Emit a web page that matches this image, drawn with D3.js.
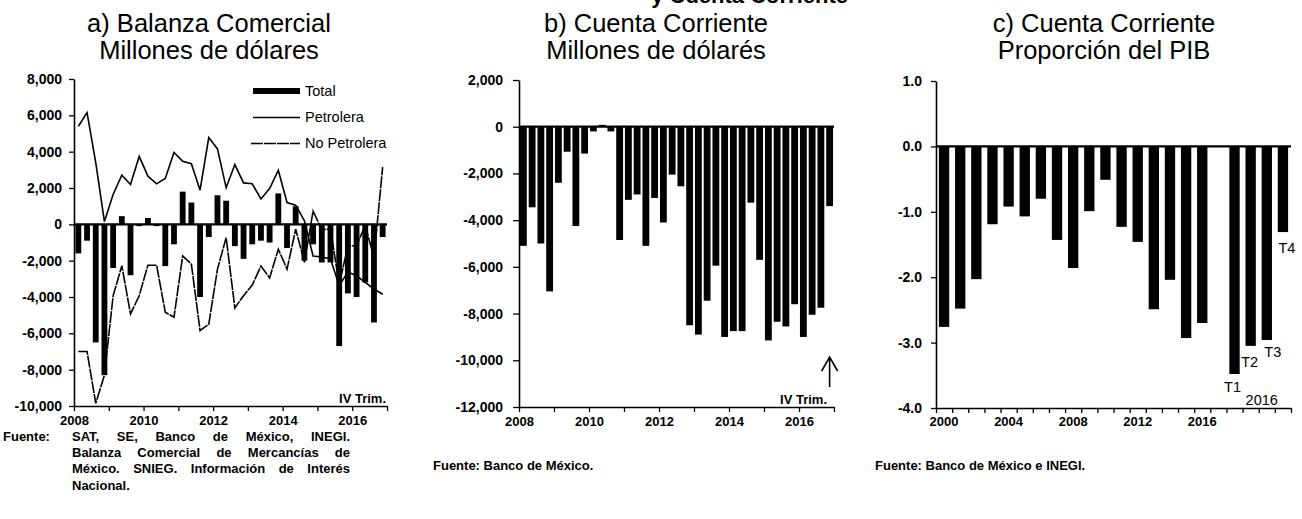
<!DOCTYPE html>
<html><head><meta charset="utf-8">
<script src="https://cdn.jsdelivr.net/npm/d3@7"></script>
<style>
body{margin:0;background:#fff}
svg{display:block}
text{font-family:"Liberation Sans",Arial,sans-serif;fill:#000}
.tick text{font-size:13px;font-weight:bold}
.yax .tick text{font-size:14px}
</style>
</head><body>
<svg id="chart" width="1302" height="519"></svg>
<script>
// ---------- DATA ----------
const quarters = [];
for (let y = 2008; y <= 2016; y++) for (let q = 1; q <= 4; q++) quarters.push(y + "-T" + q);

// a) Balanza comercial, millones de dólares (trimestral)
const totalA = [-1600,-900,-6500,-8300,-2400,450,-2800,-100,350,-100,-2300,-1100,
                1800,1200,-4000,-700,1600,1300,-1200,-1900,-1100,-900,-1000,1700,
                -1300,1000,-2000,-1100,-2100,-2100,-6700,-3800,-4000,-3200,-5400,-700];
const petrolera = [5400,6150,3400,150,1640,2700,2190,3740,2650,2230,2520,3960,
                   3470,3340,1880,4780,4150,2010,3290,2280,2230,1400,1970,2980,
                   1200,1050,200,-1750,-1800,-1900,-3380,-2630,-2830,-3200,-3560,-3850];
const noPetrolera = [-7000,-7000,-9850,-8300,-3930,-2280,-4930,-3930,-2250,-2250,-4840,-5110,
                     -1740,-2190,-5850,-5500,-2470,-730,-4600,-3930,-3340,-2300,-2950,-1370,
                     -2470,-270,-2100,730,-300,-250,-3320,-1200,-1170,-50,-1840,3150];
const yTicksA = [-10000,-8000,-6000,-4000,-2000,0,2000,4000,6000,8000];
const yearTicks = [2008,2009,2010,2011,2012,2013,2014,2015,2016,2017];
const yearLabels = [2008,2010,2012,2014,2016];

// b) Cuenta corriente, millones de dólares (trimestral)
const cuentaB = [-5100,-3450,-5000,-7050,-2400,-1070,-4250,-1150,-200,80,-200,-4850,
                 -3130,-2900,-5100,-3050,-4100,-2050,-2550,-8500,-8900,-7450,-5950,-9000,
                 -8750,-8750,-3250,-5700,-9150,-8350,-8550,-7600,-9000,-8050,-7750,-3400];
const yTicksB = [-12000,-10000,-8000,-6000,-4000,-2000,0,2000];

// c) Cuenta corriente, proporción del PIB
const categoriesC = ["2000","2001","2002","2003","2004","2005","2006","2007","2008","2009",
                     "2010","2011","2012","2013","2014","2015","2016","gap","T1","T2","T3","T4"];
const valuesC = [-2.76,-2.48,-2.03,-1.19,-0.92,-1.07,-0.80,-1.43,-1.86,-0.99,
                 -0.51,-1.23,-1.46,-2.49,-2.04,-2.93,-2.70,null,-3.48,-3.05,-2.96,-1.31];
const xLabelsC = ["2000","2004","2008","2012","2016"];
const yTicksC = [-4,-3,-2,-1,0,1];

// ---------- HELPERS ----------
const svg = d3.select("#chart");
const loc = d3.formatLocale({decimal:".", thousands:",", grouping:[3], currency:["$",""], minus:"-"});
const fmtK = loc.format(",");
const fmt1 = loc.format(".1f");

function styleAxis(g){
  g.select(".domain").attr("stroke","#000").attr("stroke-width",1.6);
  g.selectAll(".tick line").attr("stroke","#000").attr("stroke-width",1.3);
}
function title(cx, l1, l2){
  svg.append("text").attr("x",cx).attr("y",32).attr("text-anchor","middle")
     .style("font-size","25.5px").text(l1);
  svg.append("text").attr("x",cx).attr("y",59).attr("text-anchor","middle")
     .style("font-size","25.5px").text(l2);
}
function bandScale(domain, r0, r1, p){
  return d3.scaleBand().domain(domain).range([r0,r1]).paddingInner(p).paddingOuter(p/2);
}
// justified line: stretch word spacing so the text fills [x0, x1]
function justified(g, x0, x1, y, str){
  const t = g.append("text").attr("x",x0).attr("y",y).text(str);
  const w = t.node().getComputedTextLength();
  const n = (str.match(/ /g)||[]).length;
  if (n>0 && x1-x0>w) t.style("word-spacing", ((x1-x0-w)/n).toFixed(2)+"px");
  return t;
}

// top clipped heading
svg.append("text").attr("x",848).attr("y",3).attr("text-anchor","end")
   .style("font-size","22px").style("font-weight","bold").text("y Cuenta Corriente");

// ================= CHART A =================
{
  const L=74, R=387, T=79, B=406;
  const x = bandScale(quarters, L, R, 0.33);
  const xy = d3.scaleLinear().domain([2008,2017]).range([L,R]);
  const y = d3.scaleLinear().domain([-10000,8000]).range([B,T]);
  const cx = (i)=> x(quarters[i]) + x.bandwidth()/2;

  svg.append("g").selectAll("rect").data(totalA).join("rect")
    .attr("x",(d,i)=>x(quarters[i])).attr("width",x.bandwidth())
    .attr("y",d=>y(Math.max(0,d))).attr("height",d=>Math.abs(y(d)-y(0)))
    .attr("fill","#000");

  svg.append("line").attr("x1",L).attr("x2",R).attr("y1",y(0)).attr("y2",y(0))
     .attr("stroke","#000").attr("stroke-width",2.2);

  const line = d3.line().x((d,i)=>cx(i)).y(d=>y(d));
  svg.append("path").datum(petrolera).attr("d",line).attr("fill","none")
     .attr("stroke","#000").attr("stroke-width",1.6);
  svg.append("path").datum(noPetrolera).attr("d",line).attr("fill","none")
     .attr("stroke","#000").attr("stroke-width",1.6).attr("stroke-dasharray","12,1");

  const ga = svg.append("g").attr("class","yax").attr("transform",`translate(${L},0)`)
    .call(d3.axisLeft(y).tickValues(yTicksA).tickFormat(fmtK).tickSize(5).tickSizeOuter(0).tickPadding(7));
  styleAxis(ga);
  const gb = svg.append("g").attr("transform",`translate(0,${B})`)
    .call(d3.axisBottom(xy).tickValues(yearTicks).tickFormat(d=>yearLabels.includes(d)?d:"").tickSize(5).tickSizeOuter(0).tickPadding(5));
  styleAxis(gb);

  svg.append("text").attr("x",R-1).attr("y",B-3).attr("text-anchor","end")
     .style("font-size","13px").style("font-weight","bold").text("IV Trim.");

  // legend
  const lg = svg.append("g").style("font-size","14.5px");
  lg.append("rect").attr("x",253).attr("y",88).attr("width",47).attr("height",6).attr("fill","#000");
  lg.append("text").attr("x",305).attr("y",96).text("Total");
  lg.append("line").attr("x1",253).attr("x2",300).attr("y1",117.5).attr("y2",117.5).attr("stroke","#000").attr("stroke-width",1.6);
  lg.append("text").attr("x",305).attr("y",122).text("Petrolera");
  lg.append("line").attr("x1",251).attr("x2",300).attr("y1",143.5).attr("y2",143.5).attr("stroke","#000").attr("stroke-width",1.6).attr("stroke-dasharray","12,1");
  lg.append("text").attr("x",305).attr("y",148).text("No Petrolera");

  title(209, "a) Balanza Comercial", "Millones de dólares");

  const src = svg.append("g").style("font-size","13px").style("font-weight","bold");
  src.append("text").attr("x",3).attr("y",441).text("Fuente:");
  justified(src, 72, 350, 441, "SAT, SE, Banco de México, INEGI.");
  justified(src, 72, 350, 457, "Balanza Comercial de Mercancías de");
  justified(src, 72, 350, 473, "México. SNIEG. Información de Interés");
  src.append("text").attr("x",72).attr("y",490).text("Nacional.");
}

// ================= CHART B =================
{
  const L=519, R=834, T=80, B=407;
  const x = bandScale(quarters, L, R, 0.22);
  const xy = d3.scaleLinear().domain([2008,2017]).range([L,R]);
  const y = d3.scaleLinear().domain([-12000,2000]).range([B,T]);

  svg.append("g").selectAll("rect").data(cuentaB).join("rect")
    .attr("x",(d,i)=>x(quarters[i])).attr("width",x.bandwidth())
    .attr("y",d=>y(Math.max(0,d))).attr("height",d=>Math.abs(y(d)-y(0)))
    .attr("fill","#000");
  svg.append("line").attr("x1",L).attr("x2",R).attr("y1",y(0)).attr("y2",y(0))
     .attr("stroke","#000").attr("stroke-width",2.2);

  const ga = svg.append("g").attr("class","yax").attr("transform",`translate(${L},0)`)
    .call(d3.axisLeft(y).tickValues(yTicksB).tickFormat(fmtK).tickSize(6).tickSizeOuter(0).tickPadding(10));
  styleAxis(ga);
  const gb = svg.append("g").attr("transform",`translate(0,${B})`)
    .call(d3.axisBottom(xy).tickValues(yearTicks).tickFormat(d=>yearLabels.includes(d)?d:"").tickSize(5).tickSizeOuter(0).tickPadding(5));
  styleAxis(gb);

  svg.append("text").attr("x",827).attr("y",B-3).attr("text-anchor","end")
     .style("font-size","13px").style("font-weight","bold").text("IV Trim.");
  const ax = x(quarters[35]) + x.bandwidth()/2;
  svg.append("path").attr("d",`M${ax},${B-20}V${B-50}M${ax-8},${B-36}L${ax},${B-50}L${ax+8},${B-36}`)
     .attr("fill","none").attr("stroke","#000").attr("stroke-width",1.6);

  title(656, "b) Cuenta Corriente", "Millones de dólarés");
  svg.append("text").attr("x",433).attr("y",470).style("font-size","13px").style("font-weight","bold")
     .text("Fuente: Banco de México.");
}

// ================= CHART C =================
{
  const L=936, R=1291, T=81, B=408;
  const x = bandScale(categoriesC, L, R, 0.36);
  const y = d3.scaleLinear().domain([-4,1]).range([B,T]);
  const data = categoriesC.map((c,i)=>({c, v:valuesC[i]})).filter(d=>d.v!==null);

  svg.append("g").selectAll("rect").data(data).join("rect")
    .attr("x",d=>x(d.c)).attr("width",x.bandwidth())
    .attr("y",d=>y(Math.max(0,d.v))).attr("height",d=>Math.abs(y(d.v)-y(0)))
    .attr("fill","#000");
  svg.append("line").attr("x1",L).attr("x2",R).attr("y1",y(0)).attr("y2",y(0))
     .attr("stroke","#000").attr("stroke-width",2.2);

  const ga = svg.append("g").attr("class","yax").attr("transform",`translate(${L},0)`)
    .call(d3.axisLeft(y).tickValues(yTicksC).tickFormat(fmt1).tickSize(5).tickSizeOuter(0).tickPadding(9));
  styleAxis(ga);

  const bx = d3.scaleLinear().domain([0, categoriesC.length]).range([L,R]);
  const gb = svg.append("g").attr("transform",`translate(0,${B})`)
    .call(d3.axisBottom(bx).tickValues(d3.range(0, categoriesC.length+1)).tickFormat("").tickSize(5).tickSizeOuter(0));
  styleAxis(gb);
  svg.append("g").selectAll("text").data(xLabelsC).join("text")
    .attr("x",d=>x(d)+x.bandwidth()/2).attr("y",B+18).attr("text-anchor","middle")
    .style("font-size","13px").style("font-weight","bold").text(d=>d);

  const qs = data.filter(d=>d.c.startsWith("T"));
  svg.append("g").selectAll("text").data(qs).join("text")
    .attr("x",(d,i)=>x(d.c)+x.bandwidth()/2 + [-2,-1,6,4][i])
    .attr("y",(d,i)=>y(d.v)+[18,21,17,21][i]).attr("text-anchor","middle")
    .style("font-size","14.5px").text(d=>d.c);
  svg.append("text").attr("x",(x("T2")+x("T3"))/2 + x.bandwidth()/2 + 3).attr("y",B-3)
     .attr("text-anchor","middle").style("font-size","14.5px").text("2016");

  title(1104, "c) Cuenta Corriente", "Proporción del PIB");
  svg.append("text").attr("x",875).attr("y",470).style("font-size","13px").style("font-weight","bold")
     .text("Fuente: Banco de México e INEGI.");
}
</script>
</body></html>
